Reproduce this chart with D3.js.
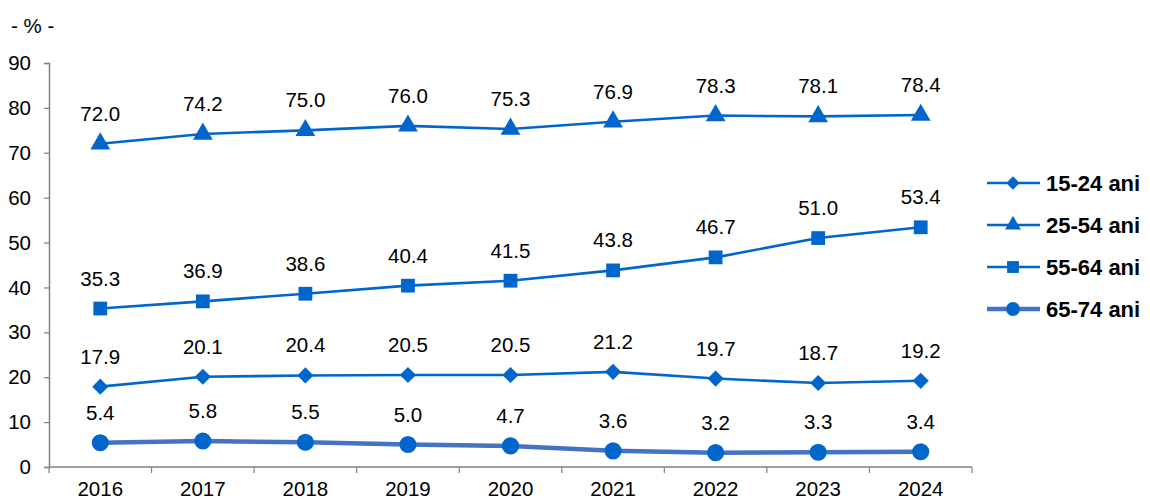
<!DOCTYPE html>
<html><head><meta charset="utf-8">
<script src="https://cdn.jsdelivr.net/npm/d3@7"></script>
<style>body{margin:0;background:#fff}svg{display:block;font-family:"Liberation Sans",Arial,sans-serif}</style>
</head><body><svg id="c" width="1150" height="500"></svg>
<script>
const years = ["2016","2017","2018","2019","2020","2021","2022","2023","2024"];
const s1524 = [17.9,20.1,20.4,20.5,20.5,21.2,19.7,18.7,19.2];
const s2554 = [72.0,74.2,75.0,76.0,75.3,76.9,78.3,78.1,78.4];
const s5564 = [35.3,36.9,38.6,40.4,41.5,43.8,46.7,51.0,53.4];
const s6574 = [5.4,5.8,5.5,5.0,4.7,3.6,3.2,3.3,3.4];
const seriesNames = ["15-24 ani","25-54 ani","55-64 ani","65-74 ani"];
const yTicks = [0,10,20,30,40,50,60,70,80,90];

const diamond = {draw(ctx,size){const r=Math.sqrt(size/2);ctx.moveTo(0,-r);ctx.lineTo(r,0);ctx.lineTo(0,r);ctx.lineTo(-r,0);ctx.closePath();}};
const series = [
  {name:seriesNames[0], values:s1524, sym:diamond, size:130, lsize:90, line:"#0066CC", lw:2.6},
  {name:seriesNames[1], values:s2554, sym:d3.symbolTriangle, size:170, lsize:110, line:"#0066CC", lw:2.6},
  {name:seriesNames[2], values:s5564, sym:d3.symbolSquare, size:190, lsize:140, line:"#0066CC", lw:2.6},
  {name:seriesNames[3], values:s6574, sym:d3.symbolCircle, size:230, lsize:150, line:"#4472C4", lw:4.5}
];
const FS = 20.5;
const svg = d3.select("#c");
const x = d3.scaleBand().domain(years).range([49,972]);
const y = d3.scaleLinear().domain([0,90]).range([467,63]);
const axisCol = "#808080";

// y axis
const ya = svg.append("g").attr("transform","translate(49,0)")
  .call(d3.axisLeft(y).tickValues(yTicks).tickSize(5).tickPadding(13).tickFormat(d3.format("d")));
ya.select(".domain").attr("stroke",axisCol).attr("stroke-width",1.5);
ya.selectAll(".tick line").attr("stroke",axisCol).attr("stroke-width",1.2);
ya.selectAll("text").attr("font-size",FS).attr("fill","#000").attr("font-family","Liberation Sans, Arial");

// x axis
const xa = svg.append("g").attr("transform","translate(0,467)");
xa.append("line").attr("x1",49).attr("x2",972).attr("stroke",axisCol).attr("stroke-width",1.5);
const bounds = years.map(d=>x(d)).concat([x(years[years.length-1])+x.bandwidth()]);
xa.selectAll("line.t").data(bounds).join("line").attr("class","t")
  .attr("x1",d=>d).attr("x2",d=>d).attr("y1",0).attr("y2",6).attr("stroke",axisCol).attr("stroke-width",1.2);
xa.selectAll("text").data(years).join("text")
  .attr("x",d=>x(d)+x.bandwidth()/2).attr("y",29).attr("text-anchor","middle")
  .attr("font-size",FS).attr("fill","#000").text(d=>d);

svg.append("text").attr("x",11).attr("y",33).attr("font-size",FS).text("- % -");

const cx = i => x(years[i]) + x.bandwidth()/2;
const lineGen = d3.line().x((d,i)=>cx(i)).y(d=>y(d));
series.forEach(s=>{
  const g = svg.append("g");
  g.append("path").datum(s.values).attr("d",lineGen).attr("fill","none")
    .attr("stroke",s.line).attr("stroke-width",s.lw);
  g.selectAll("path.m").data(s.values).join("path").attr("class","m")
    .attr("d",d3.symbol().type(s.sym).size(s.size))
    .attr("transform",(d,i)=>`translate(${cx(i)},${y(d)})`)
    .attr("fill","#0066CC");
  g.selectAll("text").data(s.values).join("text")
    .attr("x",(d,i)=>cx(i)).attr("y",d=>y(d)-23).attr("text-anchor","middle")
    .attr("font-size",FS).attr("fill","#000").text(d=>d.toFixed(1));
});

// legend
const lg = svg.append("g");
series.forEach((s,i)=>{
  const ly = 183 + i*42;
  lg.append("line").attr("x1",987).attr("x2",1040).attr("y1",ly).attr("y2",ly)
    .attr("stroke",s.line).attr("stroke-width",s.lw);
  lg.append("path").attr("d",d3.symbol().type(s.sym).size(s.lsize))
    .attr("transform",`translate(1013,${ly})`).attr("fill","#0066CC");
  lg.append("text").attr("x",1046).attr("y",ly).attr("dy","0.36em")
    .attr("font-size",22).attr("font-weight","bold").attr("fill","#000").text(s.name);
});
</script></body></html>
